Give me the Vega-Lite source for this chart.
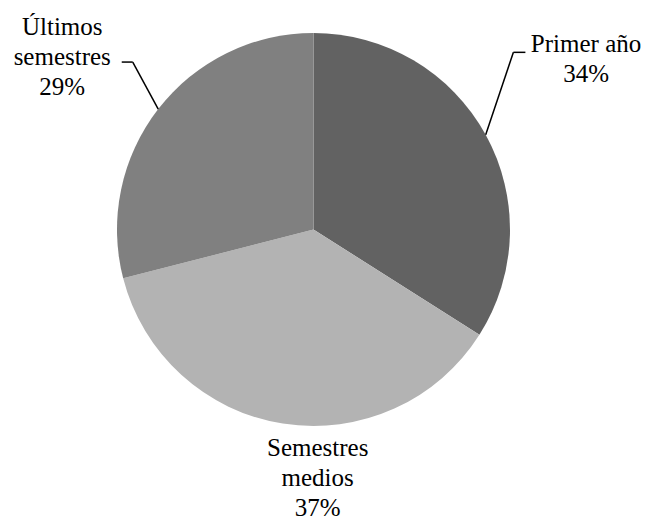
{
  "$schema": "https://vega.github.io/schema/vega-lite/v6.json",
  "width": 627,
  "height": 459,
  "autosize": {"type": "none"},
  "padding": {"left": 0, "top": 0, "right": 23, "bottom": 63},
  "background": "white",
  "config": {"view": {"stroke": null}, "text": {"font": "Liberation Serif, serif"}},
  "data": {"values": [
    {"categoria": "Primer año", "porcentaje": 34, "orden": 1, "etiqueta": "Primer año\n34%"},
    {"categoria": "Semestres medios", "porcentaje": 37, "orden": 2, "etiqueta": "Semestres\nmedios\n37%"},
    {"categoria": "Últimos semestres", "porcentaje": 29, "orden": 3, "etiqueta": "Últimos\nsemestres\n29%"}
  ]},
  "layer": [
    {
      "mark": {"type": "arc", "outerRadius": 196.5},
      "encoding": {
        "theta": {"field": "porcentaje", "type": "quantitative", "stack": true, "scale": {"domain": [0, 100]}},
        "order": {"field": "orden", "type": "quantitative"},
        "color": {"field": "categoria", "type": "nominal", "legend": null,
          "scale": {"domain": ["Primer año", "Semestres medios", "Últimos semestres"], "range": ["#626262", "#b3b3b3", "#808080"]}}
      }
    },
    {
      "transform": [
        {"stack": "porcentaje", "groupby": [], "sort": [{"field": "orden", "order": "ascending"}], "as": ["t0", "t1"]},
        {"calculate": "(datum.t0 + datum.t1) / 2", "as": "medio"},
        {"filter": "datum.categoria === 'Primer año'"}
      ],
      "mark": {"type": "text", "radius": 311, "dy": -28, "font": "Liberation Serif, serif", "fontSize": 25, "lineHeight": 30.5, "align": "center", "baseline": "alphabetic", "lineBreak": "\n", "color": "black"},
      "encoding": {
        "theta": {"field": "medio", "type": "quantitative", "stack": null, "scale": {"domain": [0, 100]}},
        "text": {"field": "etiqueta"}
      }
    },
    {
      "transform": [
        {"stack": "porcentaje", "groupby": [], "sort": [{"field": "orden", "order": "ascending"}], "as": ["t0", "t1"]},
        {"calculate": "(datum.t0 + datum.t1) / 2", "as": "medio"},
        {"filter": "datum.categoria === 'Semestres medios'"}
      ],
      "mark": {"type": "text", "radius": 229, "dx": 40, "font": "Liberation Serif, serif", "fontSize": 25, "lineHeight": 30, "align": "center", "baseline": "alphabetic", "lineBreak": "\n", "color": "black"},
      "encoding": {
        "theta": {"field": "medio", "type": "quantitative", "stack": null, "scale": {"domain": [0, 100]}},
        "text": {"field": "etiqueta"}
      }
    },
    {
      "transform": [
        {"stack": "porcentaje", "groupby": [], "sort": [{"field": "orden", "order": "ascending"}], "as": ["t0", "t1"]},
        {"calculate": "(datum.t0 + datum.t1) / 2", "as": "medio"},
        {"filter": "datum.categoria === 'Últimos semestres'"}
      ],
      "mark": {"type": "text", "radius": 318, "font": "Liberation Serif, serif", "fontSize": 25, "lineHeight": 30, "align": "center", "baseline": "alphabetic", "lineBreak": "\n", "color": "black"},
      "encoding": {
        "theta": {"field": "medio", "type": "quantitative", "stack": null, "scale": {"domain": [0, 100]}},
        "text": {"field": "etiqueta"}
      }
    },
    {
      "transform": [
        {"stack": "porcentaje", "groupby": [], "sort": [{"field": "orden", "order": "ascending"}], "as": ["t0", "t1"]},
        {"calculate": "(datum.t0 + datum.t1) / 200 * 2 * PI", "as": "ang"},
        {"filter": "datum.categoria !== 'Semestres medios'"},
        {"calculate": "313.5 + 196.5 * sin(datum.ang)", "as": "xa"},
        {"calculate": "229.5 - 196.5 * cos(datum.ang)", "as": "ya"},
        {"calculate": "datum.categoria === 'Primer año' ? datum.xa + 27.7 : datum.xa - 25.5", "as": "xb"},
        {"calculate": "datum.categoria === 'Primer año' ? datum.ya - 82.5 : datum.ya - 47", "as": "yb"}
      ],
      "mark": {"type": "rule", "color": "black", "strokeWidth": 1.5},
      "encoding": {
        "x": {"field": "xa", "type": "quantitative", "scale": null, "axis": null},
        "y": {"field": "ya", "type": "quantitative", "scale": null, "axis": null},
        "x2": {"field": "xb"},
        "y2": {"field": "yb"}
      }
    },
    {
      "transform": [
        {"stack": "porcentaje", "groupby": [], "sort": [{"field": "orden", "order": "ascending"}], "as": ["t0", "t1"]},
        {"calculate": "(datum.t0 + datum.t1) / 200 * 2 * PI", "as": "ang"},
        {"filter": "datum.categoria !== 'Semestres medios'"},
        {"calculate": "datum.categoria === 'Primer año' ? 313.5 + 196.5 * sin(datum.ang) + 27.7 : 313.5 + 196.5 * sin(datum.ang) - 25.5", "as": "xb"},
        {"calculate": "datum.categoria === 'Primer año' ? 229.5 - 196.5 * cos(datum.ang) - 82.5 : 229.5 - 196.5 * cos(datum.ang) - 47", "as": "yb"},
        {"calculate": "datum.categoria === 'Primer año' ? datum.xb + 12 : datum.xb - 11", "as": "xc"}
      ],
      "mark": {"type": "rule", "color": "black", "strokeWidth": 1.5},
      "encoding": {
        "x": {"field": "xb", "type": "quantitative", "scale": null, "axis": null},
        "y": {"field": "yb", "type": "quantitative", "scale": null, "axis": null},
        "x2": {"field": "xc"}
      }
    }
  ]
}
